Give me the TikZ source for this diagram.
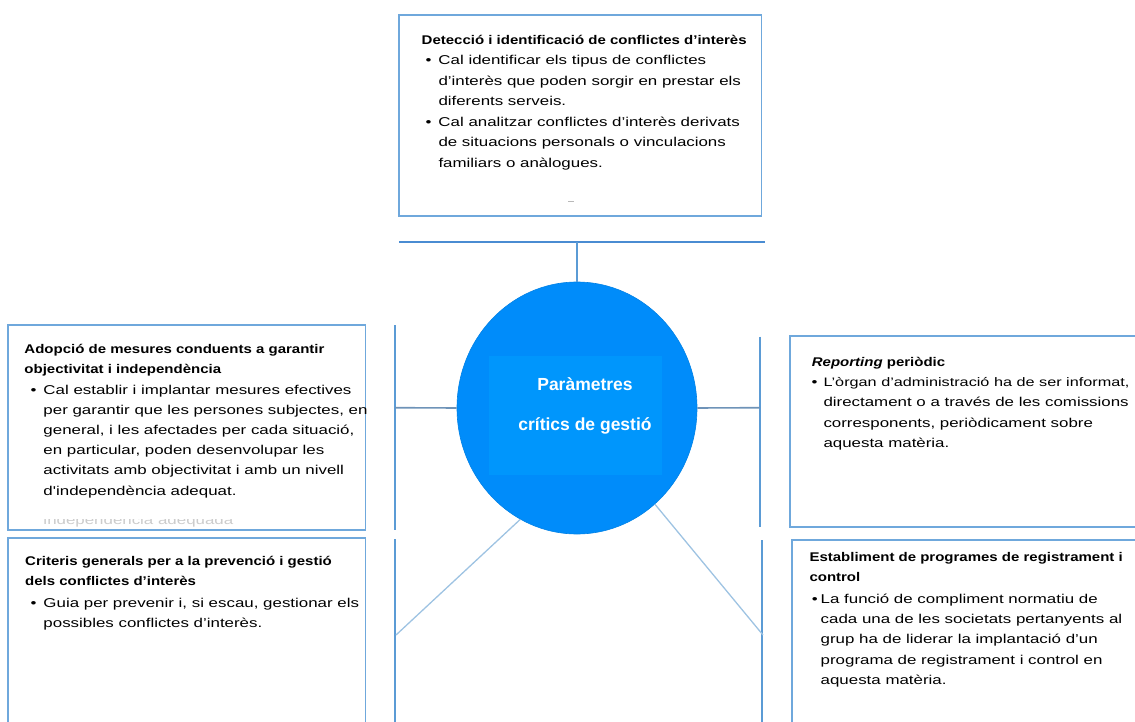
\documentclass[tikz,border=0pt]{standalone}
\usepackage{fontspec}
\setmainfont{Liberation Sans}
\newfontfamily\bodyf{Liberation Sans}[FakeStretch=1.32]
\newfontfamily\headf{Liberation Sans}[FakeStretch=1.19]
\usetikzlibrary{shapes.geometric}
\definecolor{boxc}{HTML}{6FA8DC}
\definecolor{linec}{HTML}{5B9BD5}
\definecolor{barc}{HTML}{4A8CD2}
\definecolor{hc}{HTML}{6E93B8}
\definecolor{diagc}{HTML}{9EC3E2}
\definecolor{circc}{HTML}{008CFA}
\definecolor{innerc}{HTML}{0096FC}
\newcommand\bul[1][7bp]{\llap{\textbullet\hspace{#1}}}
\tikzset{
  box/.style={draw=boxc, line width=1.3bp, rectangle, inner sep=0pt, fill=white},
  bodytxt/.style={anchor=base west, inner sep=0pt, font=\bodyf\fontsize{12.8bp}{20.2bp}\selectfont},
  headtxt/.style={anchor=base west, inner sep=0pt, font=\headf\bfseries\fontsize{12.6bp}{20bp}\selectfont},
  ctext/.style={anchor=base, inner sep=0pt, text=white, font=\bfseries\fontsize{17.5bp}{20bp}\selectfont},
  bar/.style={draw=barc, line width=2bp},
  stem/.style={draw=linec, line width=1.8bp},
  vline/.style={draw=linec, line width=2bp},
  hline/.style={draw=hc, line width=1.6bp},
  diag/.style={draw=diagc, line width=1.3bp},
}
\begin{document}
\begin{tikzpicture}[x=1bp,y=-1bp]
\useasboundingbox (0,0) rectangle (1135,722);
\clip (0,0) rectangle (1135,722);

% boxes
\node[box, minimum width=362.7bp, minimum height=201bp] (top) at (580.35,115.5) {};
\node[box, minimum width=357.7bp, minimum height=205bp] (l1) at (186.85,427.5) {};
\node[box, minimum width=357.7bp, minimum height=192bp] (l2) at (186.85,634) {};
\node[box, minimum width=350bp, minimum height=191bp] (r1) at (965,431.5) {};
\node[box, minimum width=348bp, minimum height=190bp] (r2) at (966,635) {};

% connector coordinates
\coordinate (barL) at (399,242.3);
\coordinate (barR) at (765,242.3);
\coordinate (barM) at (577,242.3);
\coordinate (vL1t) at (395,325);
\coordinate (vL1b) at (395,530);
\coordinate (vL2t) at (395.3,539);
\coordinate (vL2b) at (395.3,722);
\coordinate (hL) at (395,407.7);
\coordinate (vR1t) at (760,336.7);
\coordinate (vR1b) at (760,526.7);
\coordinate (vR2t) at (761.5,540);
\coordinate (vR2b) at (761.5,722);
\coordinate (hR) at (760,407.7);
\coordinate (dL) at (396,635);
\coordinate (dR) at (763,635);

% circle
\node[ellipse, fill=circc, draw=circc!92!black, line width=0.6bp, minimum width=240bp, minimum height=252bp, inner sep=0pt] (c) at (577,408) {};
\node[rectangle, fill=innerc, minimum width=172.7bp, minimum height=119bp, inner sep=0pt] (inner) at (575.3,415.5) {};
\node[ctext] (c1) at (585,390.7) {Paràmetres};
\node[ctext] (c2) at (585,430.5) {crítics de gestió};

% connectors
\draw[bar] (barL) -- (barR);
\draw[stem] (barM) -- (c.north);
\draw[vline] (vL1t) -- (vL1b);
\draw[vline] (vL2t) -- (vL2b);
\draw[vline] (vR1t) -- (vR1b);
\draw[vline] (vR2t) -- (vR2b);
\draw[hline] (c.west) -- (hL);
\draw[hline] (c.east) -- (hR);
\draw[diag] (c.243.2) -- (dL);
\draw[diag] (c.309.4) -- (dR);

% top box text
\node[headtxt] (th) at (421.5,44.3) {Detecció i identificació de conflictes d’interès};
\node[bodytxt] (ta) at (438.3,65) {\bul\parbox[t]{330bp}{Cal identificar els tipus de conflictes\\d’interès que poden sorgir en prestar els\\diferents serveis.}};
\node[bodytxt] (tb) at (438.3,126.7) {\bul\parbox[t]{330bp}{Cal analitzar conflictes d’interès derivats\\de situacions personals o vinculacions\\familiars o anàlogues.}};
\draw[gray!55, line width=0.8bp] (568,201.5) -- (574,201.5);

% left box 1
\node[headtxt] (l1h) at (24.3,353.3) {\parbox[t]{340bp}{Adopció de mesures conduents a garantir\\objectivitat i independència}};
\node[bodytxt] (l1a) at (43.3,394) {\bul\parbox[t]{330bp}{Cal establir i implantar mesures efectives\\per garantir que les persones subjectes, en\\general, i les afectades per cada situació,\\en particular, poden desenvolupar les\\activitats amb objectivitat i amb un nivell\\d'independència adequat.}};
\begin{scope}
\clip (30,519.5) rectangle (300,528);
\node[bodytxt, text=gray!40] (ghost) at (43.3,524.5) {independència adequada};
\end{scope}

% left box 2
\node[headtxt] (l2h) at (25,565.3) {\parbox[t]{340bp}{Criteris generals per a la prevenció i gestió\\dels conflictes d’interès}};
\node[bodytxt] (l2a) at (43.3,607.7) {\bul\parbox[t]{330bp}{Guia per prevenir i, si escau, gestionar els\\possibles conflictes d’interès.}};

% right box 1
\node[headtxt] (r1h) at (811.7,366.7) {\textit{Reporting} periòdic};
\node[bodytxt] (r1a) at (823.3,386.7) {\bul[6bp]\parbox[t]{340bp}{{\fontsize{12.3bp}{20.2bp}\selectfont L’òrgan d’administració ha de ser informat,}\\directament o a través de les comissions\\corresponents, periòdicament sobre\\aquesta matèria.}};

% right box 2
\node[headtxt] (r2h) at (809.3,561.2) {\parbox[t]{330bp}{Establiment de programes de registrament i\\control}};
\node[bodytxt] (r2a) at (820.5,603.5) {\bul[3bp]\parbox[t]{320bp}{La funció de compliment normatiu de\\cada una de les societats pertanyents al\\grup ha de liderar la implantació d’un\\programa de registrament i control en\\aquesta matèria.}};
\end{tikzpicture}
\end{document}
